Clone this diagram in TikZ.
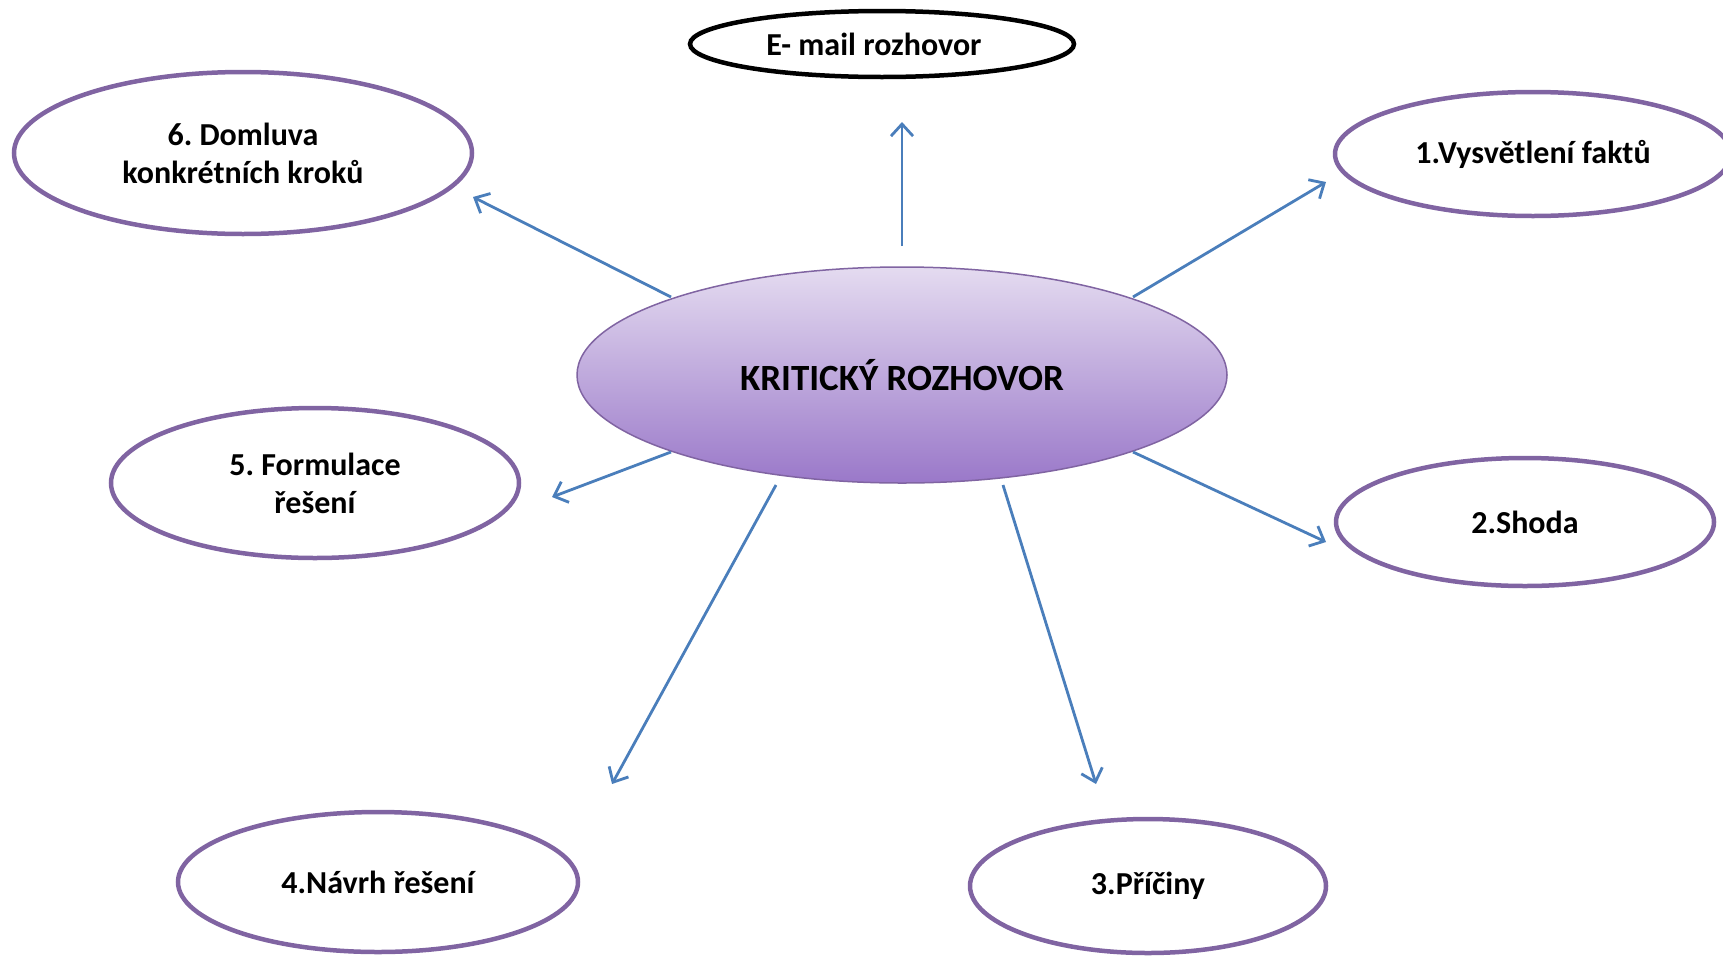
\documentclass[tikz,border=0pt]{standalone}
\usepackage{fontspec}
\setmainfont{Carlito}
\usetikzlibrary{shapes.geometric,arrows.meta}
\definecolor{ovalpurple}{HTML}{8064A2}
\definecolor{arrowblue}{HTML}{4A7EBB}
\definecolor{gradtop}{HTML}{E4DBF0}
\definecolor{gradbot}{HTML}{9A78C9}
\frenchspacing
\tikzset{
  oval/.style={ellipse, draw=ovalpurple, line width=4.5pt, inner sep=0pt, align=center,
    font=\fontsize{32}{38}\selectfont\bfseries},
  centre/.style={ellipse, draw=ovalpurple, line width=1.5pt, inner sep=0pt,
    top color=gradtop, bottom color=gradbot, font=\fontsize{37}{44}\selectfont\bfseries},
  conn/.style={draw=arrowblue, line width=2.8pt, -{Straight Barb[length=12pt,width=22pt,line width=2.8pt]}}
}
\begin{document}
\begin{tikzpicture}[x=1pt,y=-1pt]
\useasboundingbox (0,0) rectangle (1723,956);
\node[centre, minimum width=650pt, minimum height=216pt] (c) at (902,375) {KRITICKÝ ROZHOVOR};
\node[oval, draw=black, minimum width=384pt, minimum height=66pt] (email) at (882,44) {\hspace*{-16pt}E- mail rozhovor};
\node[oval, minimum width=458pt, minimum height=162pt] (n6) at (243,153) {6. Domluva\\konkrétních kroků};
\node[oval, minimum width=396pt, minimum height=124pt] (n1) at (1533,154) {1.Vysvětlení faktů};
\node[oval, minimum width=408pt, minimum height=150pt] (n5) at (315,483) {5. Formulace\\řešení};
\node[oval, minimum width=378pt, minimum height=128pt] (n2) at (1525,522) {2.Shoda};
\node[oval, minimum width=400pt, minimum height=140pt] (n4) at (378,882) {4.Návrh řešení};
\node[oval, minimum width=356pt, minimum height=134pt] (n3) at (1148,886) {3.Příčiny};
% arrow end points
\coordinate (sUp) at (902,246);  \coordinate (eUp) at (902,122);
\coordinate (s6) at (671,297);   \coordinate (e6) at (473,197);
\coordinate (s1) at (1133,297);  \coordinate (e1) at (1326,182);
\coordinate (s5) at (671,452);   \coordinate (e5) at (552,497);
\coordinate (s2) at (1133,452);  \coordinate (e2) at (1326,542);
\coordinate (s4) at (776,485);   \coordinate (e4) at (612,784);
\coordinate (s3) at (1003,485);  \coordinate (e3) at (1096,784);
\draw[conn] (sUp) -- (eUp);
\draw[conn] (s6) -- (e6);
\draw[conn] (s1) -- (e1);
\draw[conn] (s5) -- (e5);
\draw[conn] (s2) -- (e2);
\draw[conn] (s4) -- (e4);
\draw[conn] (s3) -- (e3);
\end{tikzpicture}
\end{document}
